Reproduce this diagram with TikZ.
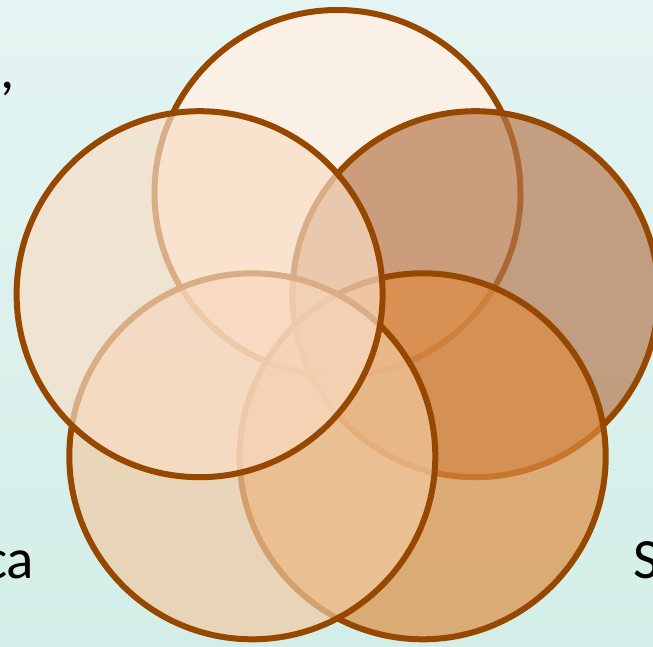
\documentclass[tikz,border=0pt]{standalone}
\usepackage{fontspec}
\setmainfont{Carlito}
\definecolor{bgtop}{RGB}{228,244,242}
\definecolor{bgbot}{RGB}{211,238,232}
\definecolor{rim}{RGB}{150,72,0}
\definecolor{petaltop}{RGB}{255,240,228}
\definecolor{petalright}{RGB}{182,119,77}
\definecolor{petalbr}{RGB}{223,140,64}
\definecolor{petalbl}{RGB}{242,202,162}
\definecolor{petalleft}{RGB}{249,221,198}

\begin{document}
\begin{tikzpicture}[x=1pt,y=1pt,
    petal/.style={circle,draw=rim,line width=6pt,minimum size=366pt,
      inner sep=0pt,outer sep=0pt,fill opacity=0.68},
    word/.style={anchor=base west,inner sep=0pt,text=black,
      font=\fontsize{57}{60}\selectfont}]
  \clip (0,0) rectangle (653,646);
  \shade[top color=bgtop,bottom color=bgbot] (0,0) rectangle (653,646);
  % five overlapping circles, drawn clockwise from the top
  \node[petal,fill=petaltop,fill opacity=0.88] (top) at (337.5,453) {};
  \node[petal,fill=petalright] (right) at (475.4,351.8) {};
  \node[petal,fill=petalbr] (botright) at (422.7,189.7) {};
  \node[petal,fill=petalbl] (botleft) at (252.3,189.7) {};
  \node[petal,fill=petalleft] (left) at (199.6,351.8) {};
  % text cut by the frame
  \node[word] (comma) at (0,557) {,};
  \node[word] (wordca) at (-17,68) {ca};
  \node[word] (wordS) at (633,68) {S};
\end{tikzpicture}
\end{document}
